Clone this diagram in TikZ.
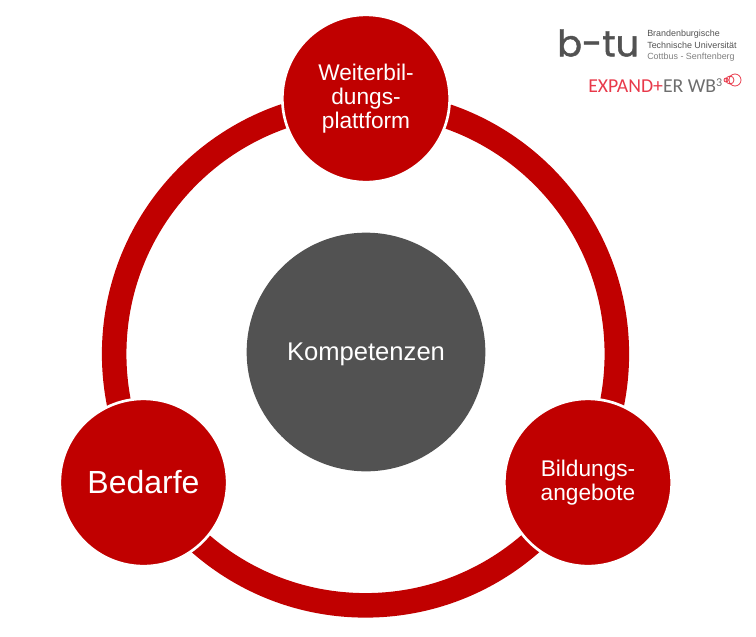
\documentclass[tikz,border=0pt]{standalone}
\usepackage{fontspec}
\setmainfont{Liberation Sans}
\newfontfamily\logofont[FakeBold=1.2]{Poppins}
\newfontfamily\expandfont{Carlito}
\definecolor{btured}{HTML}{C00000}
\definecolor{darkgrey}{HTML}{525252}
\definecolor{logored}{HTML}{E8394A}
\definecolor{logogrey}{HTML}{6E6E6E}
\tikzset{
  themenode/.style={circle,fill=btured,draw=white,line width=2pt,inner sep=0pt,minimum size=125.5pt,text=white,align=center},
  logotext/.style={anchor=west,inner sep=0pt,font=\fontsize{6.7}{6.7}\selectfont},
}

\begin{document}
\begin{tikzpicture}[x=0.75pt,y=-0.75pt]
   \useasboundingbox (0,0) rectangle (756,636);
   % ring behind the circles
   \node[circle,draw=btured,line width=18.4pt,minimum size=377pt,inner sep=0pt] (ring) at (365.5,354) {};
   \node[circle,fill=darkgrey,minimum size=179pt,inner sep=0pt,label={[text=white,font=\fontsize{19.2}{22}\selectfont,yshift=-2pt]center:Kompetenzen}] (center) at (366,352) {};
   \node[themenode,font=\fontsize{17}{18}\selectfont] (platform) at (366,98.5) {Weiterbil-\\dungs-\\plattform};
   \node[themenode,font=\fontsize{24}{28}\selectfont] (demand) at (143.5,482.5) {Bedarfe};
   \node[themenode,font=\fontsize{17}{18}\selectfont] (offers) at (588,482.5) {Bildungs-\\angebote};
   % logo
   \node[anchor=west,inner sep=0pt,text=darkgrey,font=\logofont\fontsize{27.5}{27.5}\selectfont] (btu) at (557,43) {b-tu};
   \node[logotext,text=darkgrey] (uni1) at (647,34.5) {Brandenburgische};
   \node[logotext,text=darkgrey] (uni2) at (647,45.5) {Technische Universität};
   \node[logotext,text=gray] (uni3) at (647,57) {Cottbus - Senftenberg};
   \node[anchor=west,inner sep=0pt,text=logogrey,font=\expandfont\fontsize{14.8}{14.8}\selectfont] (expand) at (588,85.5) {\textcolor{logored}{EXPAND+}ER WB\raisebox{4pt}{\fontsize{9}{9}\selectfont 3}};
   \draw[logored,line width=0.6pt] (735,80) circle (6) (730,80) circle (4) (726,80) circle (2);
\end{tikzpicture}
\end{document}
